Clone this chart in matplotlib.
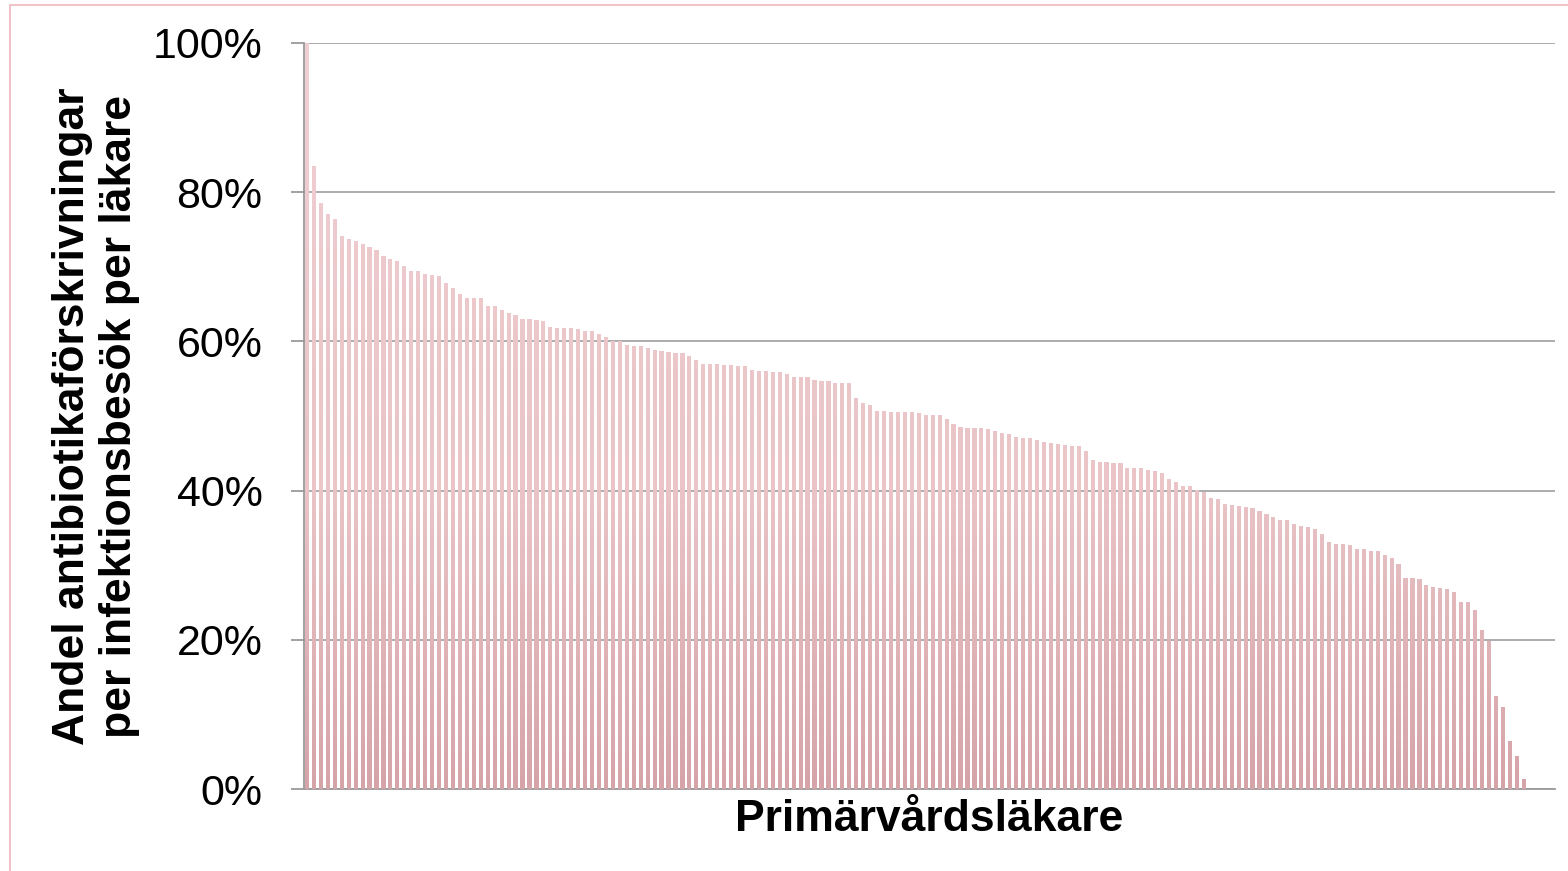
import matplotlib
matplotlib.use("Agg")
import matplotlib.pyplot as plt
import numpy as np
from matplotlib.path import Path
from matplotlib.colors import LinearSegmentedColormap
from matplotlib.patches import Rectangle
from matplotlib.ticker import PercentFormatter

# Share of antibiotic prescriptions per infection visit, one value per physician (sorted)
values = [
    100.0, 83.5, 78.5, 77.1, 76.4, 74.1, 73.7, 73.4, 73.0, 72.7,
    72.3, 71.5, 71.1, 70.8, 70.1, 69.5, 69.5, 69.1, 68.9, 68.7,
    67.8, 67.1, 66.3, 65.8, 65.8, 65.8, 64.7, 64.7, 64.2, 63.8,
    63.5, 63.0, 63.0, 62.9, 62.7, 61.9, 61.8, 61.8, 61.8, 61.7,
    61.4, 61.4, 61.0, 60.6, 60.1, 60.0, 59.5, 59.4, 59.4, 59.1,
    58.8, 58.7, 58.6, 58.4, 58.4, 58.0, 57.5, 57.0, 57.0, 57.0,
    56.8, 56.8, 56.7, 56.7, 56.2, 56.0, 56.0, 55.9, 55.9, 55.6,
    55.2, 55.2, 55.2, 54.8, 54.7, 54.7, 54.4, 54.4, 54.4, 52.4,
    51.7, 51.5, 50.7, 50.7, 50.5, 50.5, 50.5, 50.5, 50.4, 50.1,
    50.1, 50.1, 49.6, 48.9, 48.5, 48.4, 48.4, 48.4, 48.3, 48.0,
    47.7, 47.6, 47.2, 47.1, 47.1, 46.8, 46.5, 46.4, 46.2, 46.1,
    46.0, 46.0, 45.3, 44.1, 43.8, 43.8, 43.7, 43.7, 43.0, 43.0,
    43.0, 42.8, 42.6, 42.4, 41.6, 41.2, 40.6, 40.6, 40.1, 39.8,
    39.0, 38.9, 38.2, 38.1, 37.9, 37.8, 37.7, 37.3, 36.9, 36.5,
    36.1, 36.1, 35.5, 35.3, 35.1, 34.9, 34.2, 33.1, 32.8, 32.8,
    32.7, 32.2, 32.2, 31.9, 31.9, 31.4, 31.0, 30.2, 28.3, 28.3,
    28.2, 27.4, 27.1, 26.9, 26.8, 26.4, 25.1, 25.1, 24.0, 21.3,
    19.8, 12.5, 11.0, 6.4, 4.4, 1.3,
]
n_slots = 180  # category slots on the axis (some empty at the end)
yticks = [0, 20, 40, 60, 80, 100]
ylabel = "Andel antibiotikaförskrivningar\nper infektionsbesök per läkare"
xlabel = "Primärvårdsläkare"

plt.rcParams['font.family'] = ['Liberation Sans', 'DejaVu Sans']

W, H = 1568, 871
fig = plt.figure(figsize=(W / 100, H / 100), dpi=100)
ax = fig.add_axes([303.5 / W, 1 - 789 / H, (1555 - 303.5) / W, (789 - 43) / H])

x = np.arange(len(values))
bars = ax.bar(x, values, width=0.6, color='#e6bcbf', edgecolor='none', zorder=2)

# vertical gradient fill clipped to the bars
cmap = LinearSegmentedColormap.from_list(
    'g', [(0.0, '#d5a4a8'), (0.4, '#eac4c7'), (1.0, '#f0cfd2')])
grad = np.linspace(0, 1, 256).reshape(-1, 1)
im = ax.imshow(grad, cmap=cmap, aspect='auto', origin='lower',
               extent=[-0.5, n_slots - 0.5, 0, 100], zorder=3,
               interpolation='bilinear')
paths = [p.get_path().transformed(p.get_patch_transform()) for p in bars]
clip = Path.make_compound_path(*paths)
im.set_clip_path(clip, transform=ax.transData)

ax.set_xlim(-0.5, n_slots - 0.5)
ax.set_ylim(0, 100)
ax.set_yticks(yticks)
ax.yaxis.set_major_formatter(PercentFormatter(decimals=0))
ax.set_xticks([])
ax.grid(axis='y', color='#a6a6a6', linewidth=1.3, zorder=0)
ax.set_axisbelow(True)
for s in ['top', 'right']:
    ax.spines[s].set_visible(False)
ax.spines['left'].set_color('#9a9a9a')
ax.spines['left'].set_linewidth(1.3)
ax.spines['bottom'].set_color('#9a9a9a')
ax.spines['bottom'].set_linewidth(1.3)
ax.tick_params(axis='y', length=9.5, width=1.3, color='#9a9a9a',
               labelsize=31, pad=20, labelcolor='black')

fig.text(929 / W, 1 - 819 / H, xlabel, ha='center', va='center',
         fontsize=32, fontweight='bold')
fig.text(96 / W, 1 - 416 / H, ylabel, ha='center', va='center',
         rotation=90, fontsize=32, fontweight='bold', linespacing=1.2,
         multialignment='center')

# outer chart frame
fig.patches.append(Rectangle((10 / W, -0.05), 1.1, 1 - 5.5 / H + 0.05,
                             transform=fig.transFigure, fill=False,
                             edgecolor='#efc3c7', linewidth=1.5))

fig.savefig('out.png', dpi=100)
